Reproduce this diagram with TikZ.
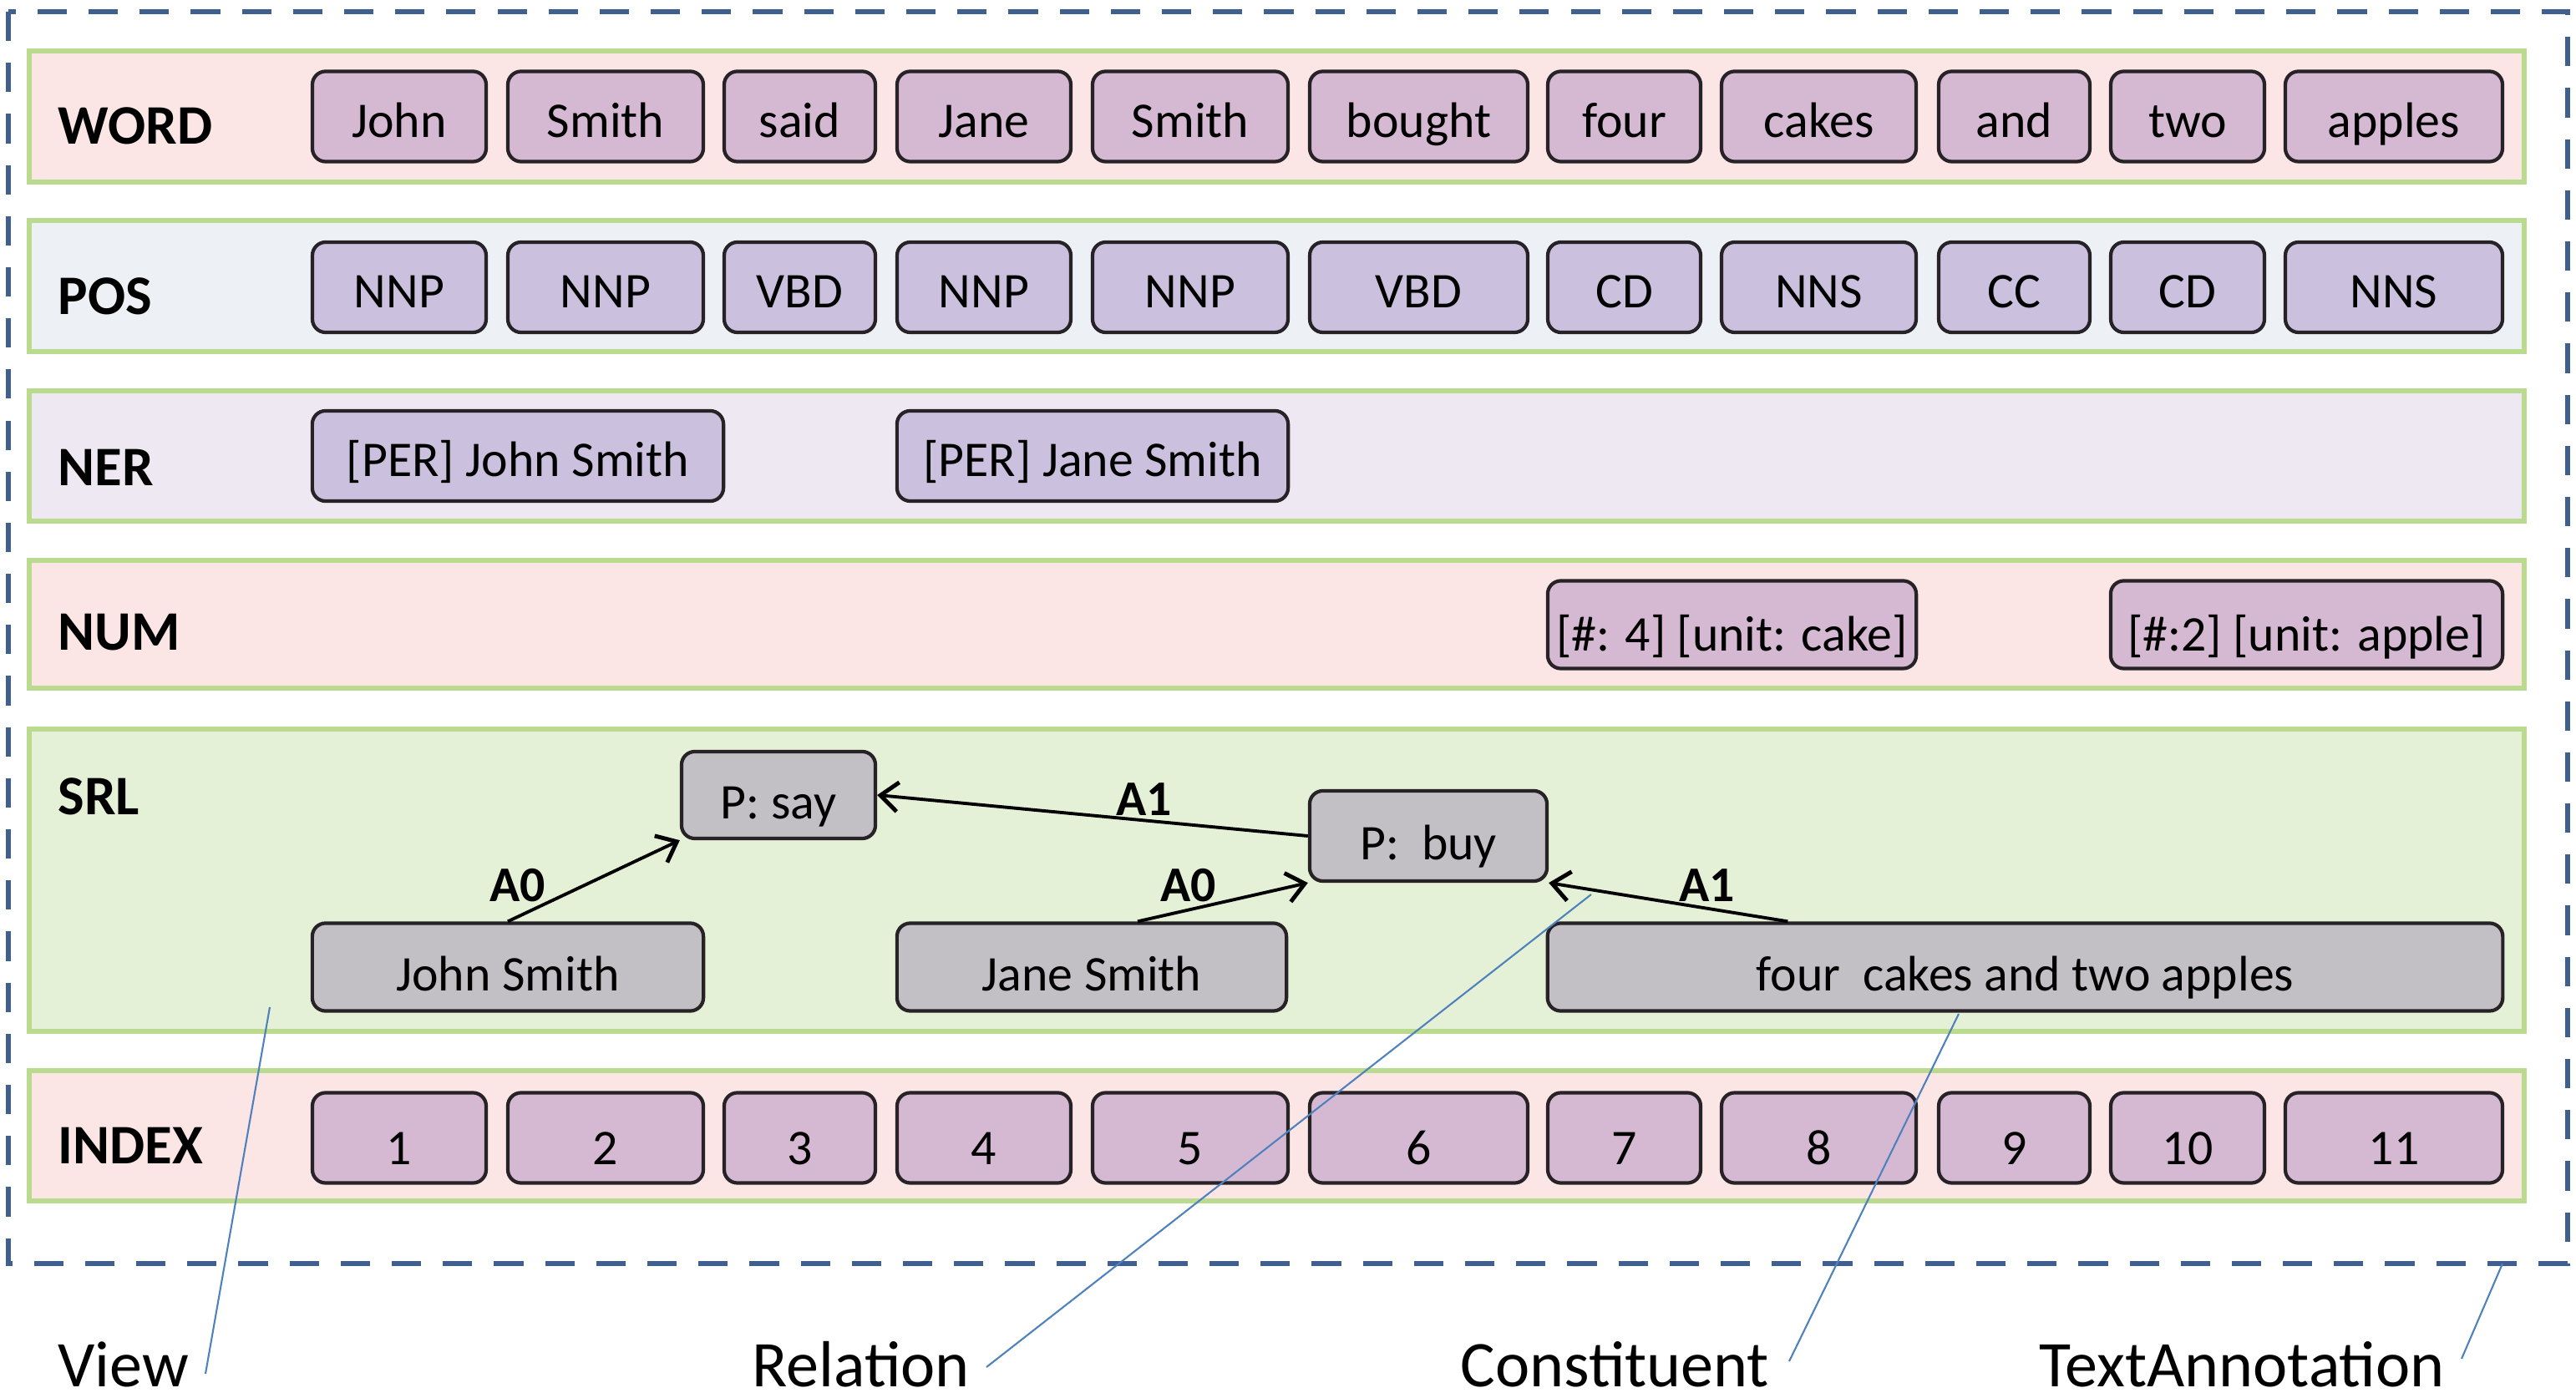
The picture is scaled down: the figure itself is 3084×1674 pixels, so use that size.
\documentclass[tikz,border=0pt]{standalone}
\usepackage{fontspec}
\setmainfont{Carlito}
\usetikzlibrary{arrows.meta}
\definecolor{bandgreen}{RGB}{186,218,142}
\definecolor{pinkband}{RGB}{251,229,229}
\definecolor{blueband}{RGB}{237,240,245}
\definecolor{lavband}{RGB}{238,232,243}
\definecolor{greenband}{RGB}{229,241,215}
\definecolor{wordfill}{RGB}{213,184,209}
\definecolor{posfill}{RGB}{203,192,221}
\definecolor{srlfill}{RGB}{194,192,196}
\definecolor{dashblue}{RGB}{63,95,143}
\definecolor{callblue}{RGB}{79,129,189}
\definecolor{boxline}{RGB}{38,34,38}
\begin{document}
\begin{tikzpicture}[x=0.01cm,y=-0.01cm,
  band/.style={draw=bandgreen, line width=1.5pt},
  tok/.style={draw=boxline, line width=1.2pt, rounded corners=4.5pt, inner sep=0pt,
    font=\fontsize{17}{20}\selectfont, text height=16pt, text depth=2pt},
  lowtext/.style={text height=18pt, text depth=0pt},
  wordbox/.style={tok, fill=wordfill, minimum height=1.08cm},
  posbox/.style={tok, fill=posfill, minimum height=1.08cm},
  srlbox/.style={tok, fill=srlfill, minimum height=1.05cm, text height=17pt, text depth=1pt},
  viewlabel/.style={anchor=base west, inner sep=0pt, font=\fontsize{19}{22}\selectfont\bfseries},
  arglabel/.style={inner sep=0pt, font=\fontsize{17}{20}\selectfont\bfseries},
  argarrow/.style={line width=1.1pt, -{Straight Barb[length=6pt,width=10pt,line width=1.4pt]}},
  callout/.style={draw=callblue, line width=0.6pt},
  bottomlabel/.style={anchor=base west, inner sep=0pt, font=\fontsize{22.2}{25}\selectfont}
]
\useasboundingbox (0,0) rectangle (3084,1674);

% outer TextAnnotation frame
\draw[dashblue, line width=1.7pt, dash pattern=on 10pt off 7.4pt] (10,14) rectangle (3074,1513);

% view bands
\draw[band, fill=pinkband]  (35,61)   rectangle (3022,218);
\draw[band, fill=blueband]  (35,264)  rectangle (3022,421);
\draw[band, fill=lavband]   (35,468)  rectangle (3022,624);
\draw[band, fill=pinkband]  (35,671)  rectangle (3022,824);
\draw[band, fill=greenband] (35,873)  rectangle (3022,1235);
\draw[band, fill=pinkband]  (35,1282) rectangle (3022,1438);

% view labels
\node[viewlabel] (lword)  at (69,173)  {WORD};
\node[viewlabel] (lpos)   at (69,377)  {POS};
\node[viewlabel] (lner)   at (69,582)  {NER};
\node[viewlabel] (lnum)   at (69,779)  {NUM};
\node[viewlabel] (lsrl)   at (69,976)  {SRL};
\node[viewlabel] (lindex) at (69,1394) {INDEX};

% tokens, POS tags, indices
\foreach \cx/\w/\t/\p [count=\i] in {
  478/208/John/NNP, 725/234/Smith/NNP, 957.5/181/said/VBD, 1178/208/Jane/NNP,
  1425/234/Smith/NNP, 1698.5/261/bought/VBD, 1944.5/183/four/CD, 2177.5/233/cakes/NNS,
  2411.5/181/and/CC, 2619/184/two/CD, 2866/260/apples/NNS}{
  \node[wordbox, minimum width=\w*0.01cm] (w\i) at (\cx,139.5) {\t};
  \node[posbox,  minimum width=\w*0.01cm] (p\i) at (\cx,344) {\p};
  \node[wordbox, lowtext, minimum width=\w*0.01cm] (x\i) at (\cx,1362.5) {\i};
}

% NER
\node[posbox, minimum width=4.92cm] (ner1) at (620,546) {[PER] John Smith};
\node[posbox, minimum width=4.68cm] (ner2) at (1308,546) {[PER] Jane Smith};

% NUM
\node[wordbox, lowtext, minimum width=4.41cm, minimum height=1.05cm] (num1) at (2073.5,748) {[\#: 4] [unit: cake]};
\node[wordbox, lowtext, minimum width=4.69cm, minimum height=1.05cm] (num2) at (2761.5,748) {[\#:2] [unit: apple]};

% SRL
\node[srlbox, minimum width=2.32cm, minimum height=1.04cm] (psay) at (932,952) {P: say};
\node[srlbox, minimum width=2.84cm, minimum height=1.08cm] (pbuy) at (1710,1001) {P:\ \ buy};
\node[srlbox, minimum width=4.68cm] (ajohn) at (608,1158) {John Smith};
\node[srlbox, minimum width=4.66cm] (ajane) at (1307,1158) {Jane Smith};
\node[srlbox, minimum width=11.43cm] (acakes) at (2424.5,1158) {four\ \ cakes and two apples};

\draw[argarrow] (ajohn.north) -- (psay.south west);
\draw[argarrow] (pbuy.west) -- (psay.east);
\draw[argarrow] ([xshift=0.55cm]ajane.north) -- (pbuy.south west);
\draw[argarrow] ([xshift=-2.84cm]acakes.north) -- (pbuy.south east);

\node[arglabel] (a0a) at (620,1060) {A0};
\node[arglabel] (a1a) at (1370,957) {A1};
\node[arglabel] (a0b) at (1423,1060) {A0};
\node[arglabel] (a1b) at (2044,1060) {A1};

% bottom legend
\node[bottomlabel] (tview) at (69,1660) {View};
\node[bottomlabel] (trel)  at (900,1660) {Relation};
\node[bottomlabel] (tcon)  at (1748,1660) {Constituent};
\node[bottomlabel] (tta)   at (2441,1660) {TextAnnotation};

\coordinate (cview) at (323,1206);
\coordinate (crel)  at (1905,1071);
\coordinate (ccon)  at (2345,1214);
\coordinate (cta)   at (2996,1513);
\coordinate (eview) at (246,1645);
\coordinate (erel)  at (1181,1637);
\coordinate (econ)  at (2142,1630);
\coordinate (eta)   at (2947,1627);

\draw[callout] (cview) -- (eview);
\draw[callout] (crel) -- (erel);
\draw[callout] (ccon) -- (econ);
\draw[callout] (cta) -- (eta);
\end{tikzpicture}
\end{document}
